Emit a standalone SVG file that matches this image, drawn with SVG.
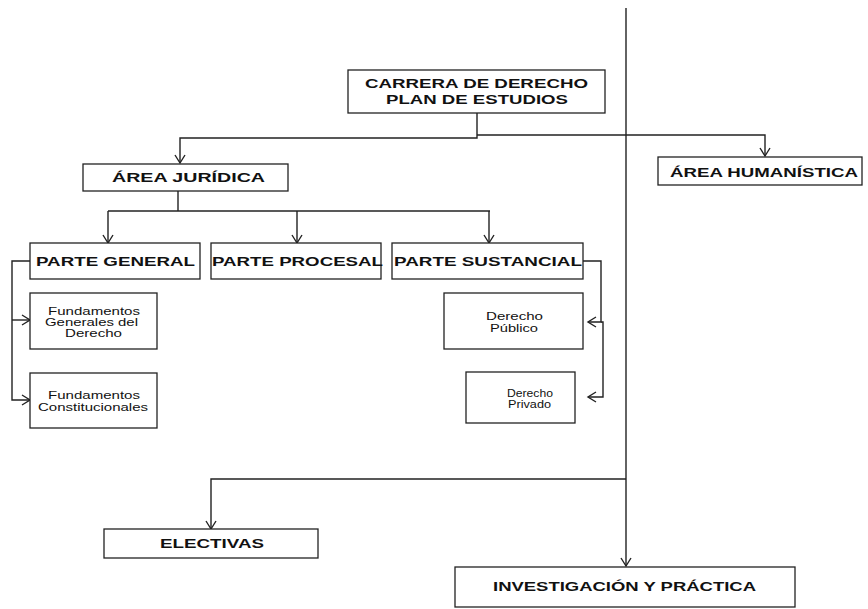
<svg xmlns="http://www.w3.org/2000/svg" width="868" height="609" viewBox="0 0 868 609">
<style>
.box{fill:#fff;stroke:#222;stroke-width:1.3}
.c{fill:none;stroke:#222;stroke-width:1.4}
.h{font-family:"Liberation Sans",Arial,sans-serif;font-weight:bold;font-size:13px;fill:#111}
.s{font-family:"Liberation Sans",Arial,sans-serif;font-size:10.5px;fill:#111}
</style>
<defs>
<marker id="a" markerUnits="userSpaceOnUse" markerWidth="12" markerHeight="12" viewBox="-10 -6 12 12" refX="0" refY="0" orient="auto">
<path d="M-8,-5 L0,0 L-8,5" fill="none" stroke="#222" stroke-width="1.4"/>
</marker>
</defs>
<rect width="868" height="609" fill="#fff"/>
<g id="connectors">
<path class="c" d="M626,8 V566" marker-end="url(#a)"/>
<path class="c" d="M477,113 V138 H180 V163" marker-end="url(#a)"/>
<path class="c" d="M477,135 H765 V156" marker-end="url(#a)"/>
<path class="c" d="M626,479 H211 V529" marker-end="url(#a)"/>
<path class="c" d="M178,191 V211"/>
<path class="c" d="M108,211 H490"/>
<path class="c" d="M108,211 V243" marker-end="url(#a)"/>
<path class="c" d="M297,211 V243" marker-end="url(#a)"/>
<path class="c" d="M489,211 V243" marker-end="url(#a)"/>
<path class="c" d="M30,261 H12 V400 H30" marker-end="url(#a)"/>
<path class="c" d="M12,320 H30" marker-end="url(#a)"/>
<path class="c" d="M583,261 H601 V322 H588" marker-end="url(#a)"/>
<path class="c" d="M601,322 H603 V397 H588" marker-end="url(#a)"/>
</g>
<g id="carrera">
<rect class="box" x="348" y="70" width="257" height="43"/>
<text class="h" x="365" y="88" textLength="223" lengthAdjust="spacingAndGlyphs">CARRERA DE DERECHO</text>
<text class="h" x="386" y="104" textLength="182" lengthAdjust="spacingAndGlyphs">PLAN DE ESTUDIOS</text>
</g>
<g id="area-juridica">
<rect class="box" x="83" y="164" width="205" height="27"/>
<text class="h" x="112" y="182" textLength="153" lengthAdjust="spacingAndGlyphs">ÁREA JURÍDICA</text>
</g>
<g id="area-humanistica">
<rect class="box" x="658" y="157" width="204" height="28"/>
<text class="h" x="670" y="177" textLength="188" lengthAdjust="spacingAndGlyphs">ÁREA HUMANÍSTICA</text>
</g>
<g id="parte-general">
<rect class="box" x="30" y="243" width="170" height="36"/>
<text class="h" x="36" y="266" textLength="159" lengthAdjust="spacingAndGlyphs">PARTE GENERAL</text>
</g>
<g id="parte-procesal">
<rect class="box" x="211" y="243" width="170" height="36"/>
<text class="h" x="212" y="266" textLength="171" lengthAdjust="spacingAndGlyphs">PARTE PROCESAL</text>
</g>
<g id="parte-sustancial">
<rect class="box" x="392" y="243" width="191" height="36"/>
<text class="h" x="394" y="266" textLength="188" lengthAdjust="spacingAndGlyphs">PARTE SUSTANCIAL</text>
</g>
<g id="fund-generales">
<rect class="box" x="30" y="293" width="127" height="56"/>
<text class="s" x="48" y="315" textLength="92" lengthAdjust="spacingAndGlyphs">Fundamentos</text>
<text class="s" x="45" y="326" textLength="93" lengthAdjust="spacingAndGlyphs">Generales del</text>
<text class="s" x="65" y="337" textLength="57" lengthAdjust="spacingAndGlyphs">Derecho</text>
</g>
<g id="fund-constitucionales">
<rect class="box" x="30" y="373" width="127" height="55"/>
<text class="s" x="48" y="399" textLength="92" lengthAdjust="spacingAndGlyphs">Fundamentos</text>
<text class="s" x="38" y="411" textLength="110" lengthAdjust="spacingAndGlyphs">Constitucionales</text>
</g>
<g id="derecho-publico">
<rect class="box" x="444" y="293" width="139" height="56"/>
<text class="s" x="486" y="320" textLength="57" lengthAdjust="spacingAndGlyphs">Derecho</text>
<text class="s" x="490" y="332" textLength="48" lengthAdjust="spacingAndGlyphs">Público</text>
</g>
<g id="derecho-privado">
<rect class="box" x="466" y="372" width="109" height="51"/>
<text class="s" x="507" y="397" textLength="46" lengthAdjust="spacingAndGlyphs">Derecho</text>
<text class="s" x="508" y="408" textLength="43" lengthAdjust="spacingAndGlyphs">Privado</text>
</g>
<g id="electivas">
<rect class="box" x="104" y="529" width="214" height="29"/>
<text class="h" x="160" y="548" textLength="104" lengthAdjust="spacingAndGlyphs">ELECTIVAS</text>
</g>
<g id="investigacion">
<rect class="box" x="455" y="567" width="340" height="40"/>
<text class="h" x="493" y="591" textLength="263" lengthAdjust="spacingAndGlyphs">INVESTIGACIÓN Y PRÁCTICA</text>
</g>
</svg>
